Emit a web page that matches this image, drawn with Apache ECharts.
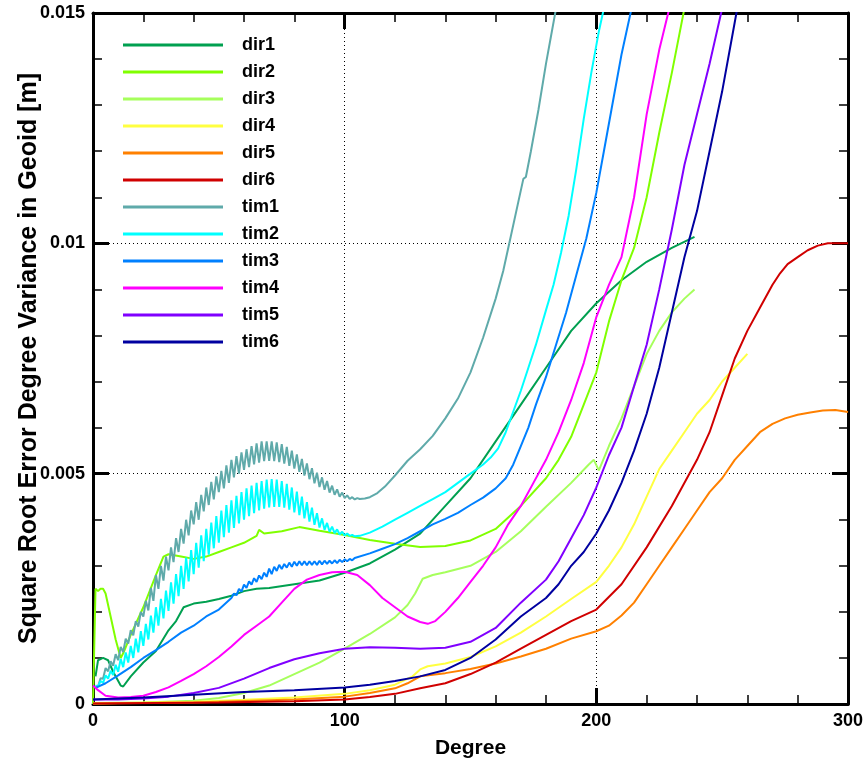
<!DOCTYPE html>
<html>
<head>
<meta charset="utf-8">
<script src="https://cdn.jsdelivr.net/npm/echarts@6/dist/echarts.min.js"></script>
<style>html,body{margin:0;padding:0;background:#fff}#c{width:867px;height:766px}</style>
</head>
<body>
<div id="c"></div>
<script>
const seriesNames = ['dir1','dir2','dir3','dir4','dir5','dir6','tim1','tim2','tim3','tim4','tim5','tim6'];
const seriesColors = ['#00A050','#80FF00','#A6FF5C','#FFFF40','#FF8000','#D00000','#5FAAAA','#00FFFF','#0080FF','#FF00FF','#8000FF','#0000A0'];
const xTicks = [0, 100, 200, 300];
const yTicks = [0, 0.005, 0.01, 0.015];

const dir1 = [[1,0.0006],[2,0.00095],[4,0.001],[6,0.00095],[8,0.0007],[11,0.0004],[12,0.00038],[15,0.0006],[20,0.0009],[25,0.00115],[30,0.0016],[33,0.0018],[36,0.0021],[40,0.00218],[45,0.00222],[50,0.00228],[55,0.00235],[60,0.00245],[65,0.0025],[70,0.00252],[80,0.0026],[90,0.00268],[100,0.00285],[110,0.00305],[120,0.00335],[130,0.0037],[140,0.0043],[150,0.0049],[160,0.0057],[170,0.0065],[180,0.0073],[190,0.0081],[200,0.0087],[210,0.0092],[220,0.0096],[230,0.0099],[239,0.01014]];
const dir2 = [[0,0.0],[1,0.0025],[2,0.00245],[3,0.0025],[4,0.0025],[5,0.0024],[7,0.0019],[9,0.0014],[11,0.001],[12,0.0011],[15,0.0015],[20,0.0021],[25,0.0028],[28,0.0032],[30,0.00325],[35,0.0032],[40,0.00315],[45,0.0032],[50,0.0033],[55,0.0034],[60,0.0035],[65,0.00365],[66,0.00378],[68,0.0037],[75,0.00375],[82,0.00384],[90,0.00376],[100,0.00367],[110,0.00356],[120,0.00348],[130,0.00341],[140,0.00343],[150,0.00355],[160,0.0038],[170,0.0043],[180,0.0049],[185,0.0053],[190,0.0058],[195,0.0065],[200,0.0072],[205,0.0083],[210,0.0092],[215,0.0099],[220,0.011],[225,0.0124],[230,0.0137],[235,0.0151]];
const dir3 = [[0,0.00002],[20,0.00003],[40,0.00007],[50,0.00013],[60,0.00024],[70,0.0004],[80,0.00065],[90,0.0009],[100,0.0012],[110,0.00152],[120,0.00188],[125,0.00215],[128,0.0024],[131,0.00272],[135,0.0028],[140,0.00286],[150,0.003],[160,0.0033],[170,0.00375],[180,0.00428],[190,0.0048],[197,0.0052],[199,0.0053],[201,0.00507],[205,0.0056],[210,0.0062],[215,0.0069],[220,0.0076],[225,0.0081],[230,0.0085],[235,0.0088],[239,0.009]];
const dir4 = [[0,0.00001],[20,0.00003],[40,0.00005],[60,0.00009],[80,0.00014],[100,0.00022],[110,0.0003],[120,0.00042],[127,0.0006],[130,0.00075],[133,0.00082],[140,0.00088],[150,0.00102],[160,0.00125],[170,0.00155],[180,0.0019],[190,0.00228],[200,0.00265],[205,0.003],[210,0.0034],[215,0.0039],[220,0.0045],[225,0.0051],[230,0.0055],[235,0.0059],[240,0.0063],[245,0.0066],[250,0.007],[255,0.0073],[260,0.0076]];
const dir5 = [[0,0.00001],[40,0.00003],[80,0.0001],[100,0.00016],[110,0.00024],[120,0.00034],[125,0.00045],[130,0.0006],[140,0.00067],[150,0.00076],[160,0.00088],[170,0.00103],[180,0.0012],[190,0.00142],[200,0.00158],[205,0.0017],[210,0.00192],[215,0.0022],[220,0.0026],[225,0.003],[230,0.0034],[235,0.0038],[240,0.0042],[245,0.0046],[250,0.0049],[255,0.0053],[260,0.0056],[265,0.0059],[270,0.00608],[275,0.0062],[280,0.00628],[285,0.00633],[290,0.00637],[295,0.00638],[300,0.00634]];
const dir6 = [[0,0.00001],[50,0.00003],[80,0.00006],[100,0.0001],[110,0.00015],[120,0.00022],[130,0.00034],[140,0.00045],[150,0.00065],[160,0.0009],[170,0.0012],[180,0.0015],[190,0.0018],[200,0.00205],[210,0.0026],[220,0.0034],[230,0.0043],[240,0.0053],[245,0.0059],[250,0.0067],[255,0.0075],[260,0.0081],[265,0.0086],[270,0.0091],[273,0.00935],[276,0.00955],[280,0.0097],[284,0.00985],[288,0.00995],[292,0.01],[300,0.01]];
const tim1 = [[1,0.00040],[2,0.00038],[3,0.00056],[4,0.00055],[5,0.00078],[6,0.00071],[7,0.00093],[8,0.00083],[9,0.00108],[10,0.00095],
[11,0.00124],[12,0.00113],[13,0.00142],[14,0.00131],[15,0.00160],[16,0.00149],[17,0.00180],[18,0.00168],[19,0.00200],[20,0.00190],
[21,0.00224],[22,0.00203],[23,0.00252],[24,0.00224],[25,0.00280],[26,0.00250],[27,0.00300],[28,0.00268],[29,0.00320],[30,0.00290],
[31,0.00340],[32,0.00308],[33,0.00360],[34,0.00330],[35,0.00380],[36,0.00348],[37,0.00400],[38,0.00366],[39,0.00420],[40,0.00390],
[41,0.00438],[42,0.00400],[43,0.00454],[44,0.00418],[45,0.00470],[46,0.00432],[47,0.00482],[48,0.00444],[49,0.00494],[50,0.00460],
[51,0.00506],[52,0.00468],[53,0.00518],[54,0.00480],[55,0.00530],[56,0.00492],[57,0.00538],[58,0.00500],[59,0.00546],[60,0.00508],
[61,0.00553],[62,0.00514],[63,0.00560],[64,0.00520],[65,0.00566],[66,0.00524],[67,0.00570],[68,0.00527],[69,0.00570],[70,0.00528],
[71,0.00570],[72,0.00527],[73,0.00568],[74,0.00525],[75,0.00564],[76,0.00522],[77,0.00558],[78,0.00517],[79,0.00550],[80,0.00511],
[81,0.00542],[82,0.00504],[83,0.00532],[84,0.00496],[85,0.00522],[86,0.00488],[87,0.00512],[88,0.00479],[89,0.00502],[90,0.00471],
[91,0.00492],[92,0.00465],[93,0.00484],[94,0.00459],[95,0.00474],[96,0.00454],[97,0.00466],[98,0.00450],[99,0.00459],[100,0.00447],
[101,0.00453],[102,0.00445],[103,0.00449],[104,0.00444],[105,0.00447],[106,0.00445],
[108,0.00446],[110,0.00449],[113,0.00458],[116,0.00472],[120,0.00496],[125,0.00528],[130,0.00553],[135,0.00582],[140,0.0062],[145,0.00663],[150,0.0072],[155,0.00795],[160,0.0088],[163,0.0094],[166,0.01015],[169,0.0109],[171,0.01140],[172,0.01144],[174,0.0120],[177,0.0129],[180,0.0139],[182,0.0145],[184,0.0151]];
const tim2 = [[1,0.00040],[2,0.00038],[3,0.00050],[4,0.00046],[5,0.00062],[6,0.00055],[7,0.00072],[8,0.00063],[9,0.00085],[10,0.00070],
[11,0.00098],[12,0.00080],[13,0.00112],[14,0.00090],[15,0.00126],[16,0.00100],[17,0.00142],[18,0.00112],[19,0.00158],[20,0.00126],
[21,0.00174],[22,0.00140],[23,0.00192],[24,0.00155],[25,0.00210],[26,0.00170],[27,0.00228],[28,0.00186],[29,0.00246],[30,0.00202],
[31,0.00264],[32,0.00218],[33,0.00282],[34,0.00234],[35,0.00300],[36,0.00250],[37,0.00318],[38,0.00266],[39,0.00334],[40,0.00282],
[41,0.00350],[42,0.00296],[43,0.00366],[44,0.00310],[45,0.00380],[46,0.00324],[47,0.00394],[48,0.00338],[49,0.00408],[50,0.00350],
[51,0.00420],[52,0.00362],[53,0.00432],[54,0.00372],[55,0.00442],[56,0.00382],[57,0.00452],[58,0.00392],[59,0.00460],[60,0.00400],
[61,0.00468],[62,0.00408],[63,0.00474],[64,0.00414],[65,0.00480],[66,0.00420],[67,0.00484],[68,0.00424],[69,0.00487],[70,0.00427],
[71,0.00488],[72,0.00428],[73,0.00487],[74,0.00428],[75,0.00484],[76,0.00426],[77,0.00478],[78,0.00422],[79,0.00470],[80,0.00416],
[81,0.00461],[82,0.00410],[83,0.00450],[84,0.00403],[85,0.00438],[86,0.00396],[87,0.00426],[88,0.00389],[89,0.00414],[90,0.00383],
[91,0.00403],[92,0.00378],[93,0.00393],[94,0.00374],[95,0.00385],[96,0.00371],[97,0.00379],[98,0.00368],[99,0.00374],[100,0.00366],
[101,0.00370],[102,0.00365],[103,0.00367],[104,0.00364],[106,0.00365],
[110,0.00372],[115,0.00385],[120,0.004],[125,0.00415],[130,0.0043],[135,0.00445],[140,0.0046],[145,0.0048],[150,0.005],[155,0.0052],[158,0.00535],[161,0.00555],[164,0.0059],[167,0.00635],[170,0.0068],[173,0.0073],[176,0.0078],[180,0.00855],[183,0.0091],[186,0.0098],[189,0.0106],[192,0.0116],[195,0.0127],[198,0.0137],[201,0.0146],[203,0.0151]];
const tim3 = [[1,0.00035],[5,0.00045],[10,0.00062],[15,0.0008],[20,0.001],[25,0.00117],[30,0.00135],[35,0.00155],[40,0.0017],[45,0.0019],[50,0.00205],[55,0.0023],
[56,0.00240],[57,0.00236],[58,0.00250],[59,0.00244],[60,0.00259],[61,0.00252],[62,0.00266],[63,0.00259],[64,0.00273],[65,0.00265],
[66,0.00279],[67,0.00271],[68,0.00285],[69,0.00276],[70,0.00294],[71,0.00282],[72,0.00298],[73,0.00289],[74,0.00302],[75,0.00293],
[76,0.00304],[77,0.00296],[78,0.00307],[79,0.00298],[80,0.00309],[81,0.00300],[82,0.00310],[83,0.00301],[84,0.00310],[85,0.00301],
[86,0.00310],[87,0.00302],[88,0.00310],[89,0.00302],[90,0.00311],[91,0.00303],[92,0.00311],[93,0.00304],[94,0.00311],[95,0.00305],
[96,0.00312],[97,0.00306],[98,0.00313],[99,0.00308],[100,0.00314],[101,0.00310],[102,0.00315],[103,0.00312],[104,0.00317],
[110,0.00327],[115,0.00337],[120,0.00347],[125,0.0036],[130,0.00375],[135,0.0039],[140,0.00402],[145,0.00415],[150,0.00432],[155,0.00448],[160,0.00468],[164,0.0049],[167,0.0052],[170,0.0056],[173,0.006],[176,0.0065],[180,0.0071],[184,0.0078],[188,0.0085],[192,0.0093],[196,0.0101],[200,0.0111],[203,0.0120],[206,0.0129],[210,0.0141],[214,0.0151]];
const tim4 = [[0,0.0004],[2,0.0003],[5,0.00018],[10,0.00014],[15,0.00015],[20,0.00018],[25,0.00026],[30,0.00036],[35,0.0005],[40,0.00065],[45,0.00082],[50,0.00102],[55,0.00125],[60,0.0015],[65,0.0017],[70,0.0019],[75,0.0022],[80,0.0025],[85,0.0027],[90,0.0028],[95,0.00286],[100,0.00287],[105,0.0028],[110,0.00258],[115,0.0023],[120,0.0021],[125,0.0019],[130,0.00178],[133,0.00174],[136,0.0018],[140,0.002],[145,0.0023],[150,0.00265],[155,0.003],[160,0.0034],[165,0.0039],[170,0.0043],[175,0.0048],[180,0.0053],[185,0.0059],[190,0.0066],[195,0.0074],[200,0.0084],[205,0.0091],[210,0.0097],[215,0.011],[220,0.0128],[225,0.0142],[229,0.0151]];
const tim5 = [[0,0.0001],[10,0.0001],[20,0.00012],[30,0.00016],[40,0.00024],[50,0.00035],[60,0.00055],[70,0.00078],[80,0.00097],[90,0.0011],[100,0.0012],[110,0.00123],[120,0.00122],[130,0.0012],[140,0.00122],[150,0.00135],[160,0.00165],[170,0.0022],[180,0.0027],[185,0.0031],[190,0.0036],[195,0.0041],[200,0.0047],[205,0.0054],[210,0.006],[215,0.0069],[220,0.0078],[225,0.009],[230,0.0103],[235,0.0117],[240,0.0128],[245,0.0139],[250,0.0151]];
const tim6 = [[0,0.0001],[20,0.00014],[40,0.0002],[60,0.00026],[80,0.0003],[100,0.00036],[110,0.00042],[120,0.0005],[130,0.0006],[140,0.00074],[150,0.001],[160,0.0014],[170,0.0019],[180,0.0023],[185,0.0026],[190,0.003],[195,0.0033],[200,0.0037],[205,0.0042],[210,0.0048],[215,0.0055],[220,0.0063],[225,0.0073],[230,0.0085],[235,0.0097],[240,0.0107],[245,0.012],[250,0.0133],[255,0.0148],[256,0.0151]];

const allData = [dir1, dir2, dir3, dir4, dir5, dir6, tim1, tim2, tim3, tim4, tim5, tim6];

const FONT = '"Liberation Sans", Arial, sans-serif';
const chart = echarts.init(document.getElementById('c'), null, {renderer: 'canvas'});

function axisCommon(extra) {
  return Object.assign({
    type: 'value',
    axisLine: {show: true, onZero: false, lineStyle: {color: '#000', width: 3}},
    axisTick: {show: true, inside: true, length: 16, lineStyle: {color: '#000', width: 3}},
    minorTick: {show: true, splitNumber: 5, length: 9, lineStyle: {color: '#000', width: 1.5}},
    splitLine: {show: false},
    axisLabel: {show: false}
  }, extra);
}

const option = {
  animation: false,
  backgroundColor: '#fff',
  grid: {left: 93, right: 19, top: 13, bottom: 62, containLabel: false, outerBoundsMode: 'none'},
  legend: {
    show: true,
    orient: 'vertical',
    left: 123,
    top: 35,
    padding: 0,
    icon: 'rect',
    itemWidth: 100,
    itemHeight: 3,
    itemGap: 7,
    data: seriesNames,
    textStyle: {fontFamily: FONT, fontWeight: 'bold', fontSize: 18, color: '#000', lineHeight: 20, padding: [0, 0, 0, 14]}
  },
  xAxis: [
    axisCommon({
      min: xTicks[0], max: xTicks[xTicks.length - 1], interval: 100, position: 'bottom',
      axisLabel: {show: true, fontFamily: FONT, fontWeight: 'bold', fontSize: 18, color: '#000', margin: 8},
      splitLine: {show: true, lineStyle: {color: '#000', type: [1, 3], width: 1}},
      name: 'Degree', nameLocation: 'middle', nameGap: 34, nameMoveOverlap: false,
      nameTextStyle: {fontFamily: FONT, fontWeight: 'bold', fontSize: 21, color: '#000'}
    }),
    axisCommon({min: xTicks[0], max: xTicks[xTicks.length - 1], interval: 100, position: 'top'})
  ],
  yAxis: [
    axisCommon({
      min: yTicks[0], max: yTicks[yTicks.length - 1], interval: 0.005, position: 'left',
      axisLabel: {show: true, fontFamily: FONT, fontWeight: 'bold', fontSize: 18, color: '#000', margin: 8},
      splitLine: {show: true, lineStyle: {color: '#000', type: [1, 3], width: 1}},
      name: 'Square Root Error Degree Variance in Geoid [m]', nameLocation: 'middle', nameGap: 51, nameRotate: 90, nameMoveOverlap: false,
      nameTextStyle: {fontFamily: FONT, fontWeight: 'bold', fontSize: 25, color: '#000'}
    }),
    axisCommon({min: yTicks[0], max: yTicks[yTicks.length - 1], interval: 0.005, position: 'right'})
  ],
  series: allData.map((d, i) => ({
    name: seriesNames[i],
    type: 'line',
    xAxisIndex: 0,
    yAxisIndex: 0,
    data: d,
    symbol: 'none',
    clip: true,
    lineStyle: {color: seriesColors[i], width: 2},
    itemStyle: {color: seriesColors[i]},
    emphasis: {disabled: true}
  }))
};
chart.setOption(option);
</script>
</body>
</html>
